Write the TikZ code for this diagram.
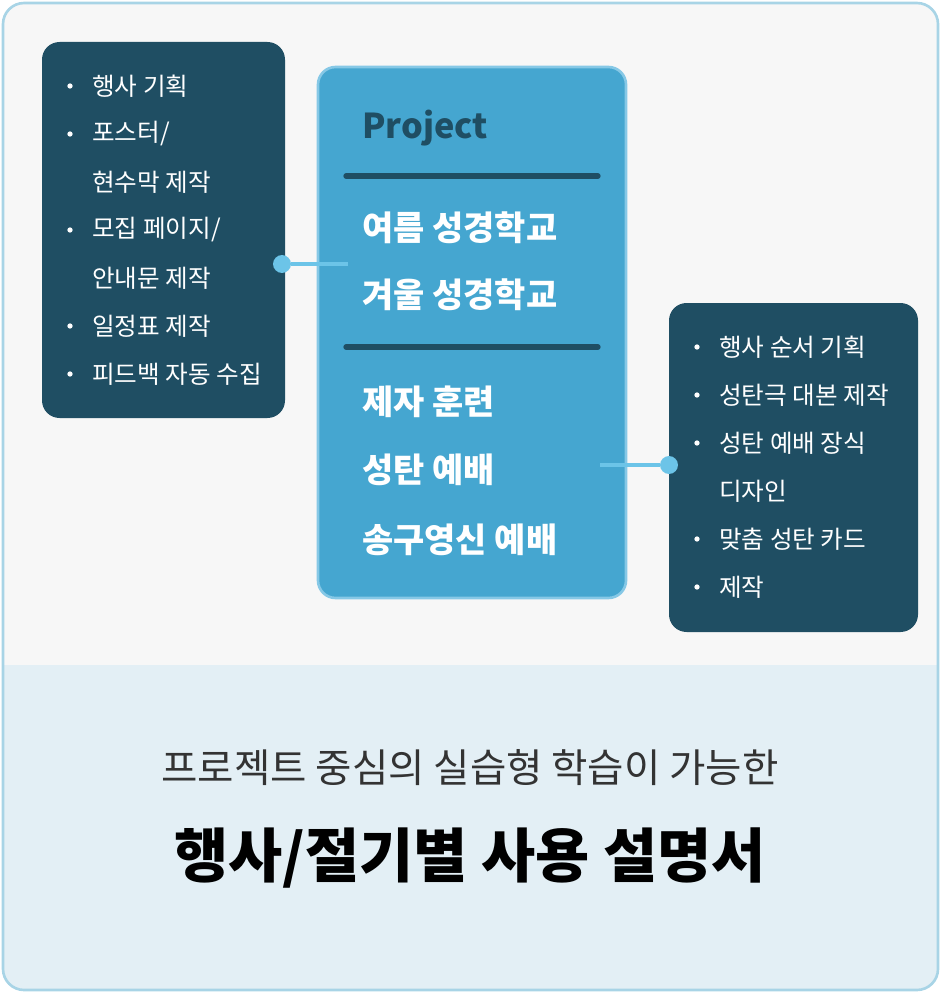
\documentclass[tikz,border=0pt]{standalone}
\usepackage{fontspec}
\setmainfont{Noto Sans CJK KR}
\definecolor{panel}{HTML}{1F4E63}
\definecolor{mainbox}{HTML}{45A6D0}
\definecolor{mainedge}{HTML}{86C8E6}
\definecolor{frame}{HTML}{A8D4E6}
\definecolor{dotblue}{HTML}{6CC4E8}
\definecolor{lowbg}{HTML}{E3EFF5}
\definecolor{topbg}{HTML}{F7F7F7}
\begin{document}
\begin{tikzpicture}[x=0.02cm,y=-0.02cm,
    item/.style={anchor=west,text=white,font=\fontsize{14}{15}\selectfont,inner sep=0pt},
    bul/.style={circle,fill=white,inner sep=0pt,minimum size=3pt},
    proj/.style={anchor=west,text=white,font=\fontsize{19.3}{20}\selectfont\bfseries,inner sep=0pt},
    dot/.style={circle,fill=dotblue,inner sep=0pt,minimum size=18pt*0.567},
    link/.style={dotblue,line width=2pt}]
    % Background
    \useasboundingbox (0,0) rectangle (940,993);
    \begin{scope}
        \clip[rounded corners=12pt] (3,3) rectangle (938,990);
        \fill[topbg] (0,0) rectangle (940,665);
        \fill[lowbg] (0,665) rectangle (940,993);
    \end{scope}
    \draw[frame,line width=1.5pt,rounded corners=12pt] (3,3) rectangle (938,990);

    % Boxes
    \fill[panel,rounded corners=10pt] (42,42) rectangle (285,418);
    \filldraw[fill=mainbox,draw=mainedge,line width=1.5pt,rounded corners=10pt] (318,67) rectangle (626,598);
    \fill[panel,rounded corners=10pt] (669,303) rectangle (918,632);

    % Left list
    \foreach \t/\y [count=\i] in {행사 기획/86,{포스터/}/134,현수막 제작/182,{모집 페이지/}/230,안내문 제작/278,일정표 제작/326,피드백 자동 수집/374}
        \node[item] (l\i) at (92,\y) {\t};
    \foreach \y in {86,134,230,326,374}
        \node[bul] at (70,\y) {};

    % Center
    \node[anchor=west,text=panel,font=\fontsize{19.5}{20}\selectfont\bfseries,inner sep=0pt] (title) at (362,128) {Project};
    \draw[panel,line width=3pt,line cap=round] (346,176) -- (598,176);
    \draw[panel,line width=3pt,line cap=round] (346,347) -- (598,347);
    \foreach \t/\y [count=\i] in {여름 성경학교/228,겨울 성경학교/295,제자 훈련/402,성탄 예배/470,송구영신 예배/540}
        \node[proj] (p\i) at (362,\y) {\t};

    % Right list
    \foreach \t/\y [count=\i] in {행사 순서 기획/347,성탄극 대본 제작/395,성탄 예배 장식/443,디자인/491,맞춤 성탄 카드/539,제작/587}
        \node[item] (r\i) at (719,\y) {\t};
    \foreach \y in {347,395,443,539,587}
        \node[bul] at (697,\y) {};

    % Connectors
    \node[dot] (ldot) at (282,264) {};
    \coordinate (lend) at (348,264);
    \draw[link] (ldot) -- (lend);
    \node[dot] (rdot) at (669,465) {};
    \coordinate (rend) at (600,465);
    \draw[link] (rend) -- (rdot);

    % Caption
    \node[text=black!80,font=\fontsize{22.5}{24}\selectfont] (sub) at (470,768) {프로젝트 중심의 실습형 학습이 가능한};
    \node[text=black,font=\fontsize{33.5}{36}\selectfont\bfseries] (head) at (470,858) {행사/절기별 사용 설명서};
\end{tikzpicture}
\end{document}
